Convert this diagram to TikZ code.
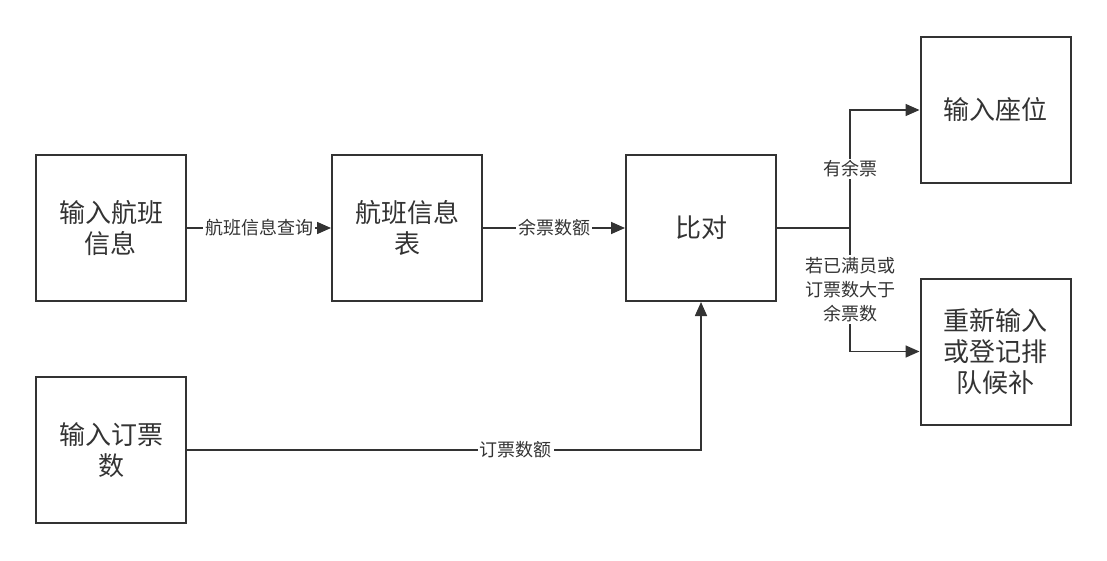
\documentclass[tikz,border=0pt]{standalone}
\usepackage{fontspec}
\setmainfont{Noto Sans CJK SC}
\usepackage{xcolor}
\usepackage{tikz}
\usetikzlibrary{arrows.meta}
\usetikzlibrary{calc,positioning}

\definecolor{ink}{HTML}{333333}

\tikzset{
    box/.style={draw=ink, line width=1pt, minimum width=75pt, minimum height=73pt,
        align=center, font=\fontsize{13}{15.5}\selectfont, text=ink},
    link/.style={draw=ink, line width=0.8pt},
    arr/.style={link, -{Triangle[length=7pt,width=6pt]}},
    lab/.style={fill=white, inner sep=1pt, align=center,
        font=\fontsize{9}{12}\selectfont, text=ink}
}

\begin{document}
\begin{tikzpicture}[x=0.5pt,y=-0.5pt]

    \useasboundingbox (0,0) rectangle (1107,561);

    % Kaders
    \node[box] (flight) at (111,228) {输入航班\\信息};
    \node[box] (table) at (407,228) {航班信息\\表};
    \node[box] (compare) at (701,228) {比对};
    \node[box] (seat) at (995.5,110) {输入座位};
    \node[box] (wait) at (995.5,351.5) {重新输入\\或登记排\\队候补};
    \node[box] (count) at (111,450) {输入订票\\数};

    % Splitsing
    \coordinate (fork) at (850,228);

    % Pijlen
    \draw[arr] (flight) -- node[lab] {航班信息查询} (table);
    \draw[arr] (table) -- node[lab] {余票数额} (compare);
    \draw[link] (compare) -- (fork);
    \draw[arr] (fork) |- node[lab, pos=0.25] {有余票} (seat);
    \draw[arr] (fork) |- node[lab, pos=0.25] {若已满员或\\订票数大于\\余票数} (wait);
    \draw[arr] (count) -| node[lab, pos=0.32] {订票数额} (compare);

\end{tikzpicture}
\end{document}
